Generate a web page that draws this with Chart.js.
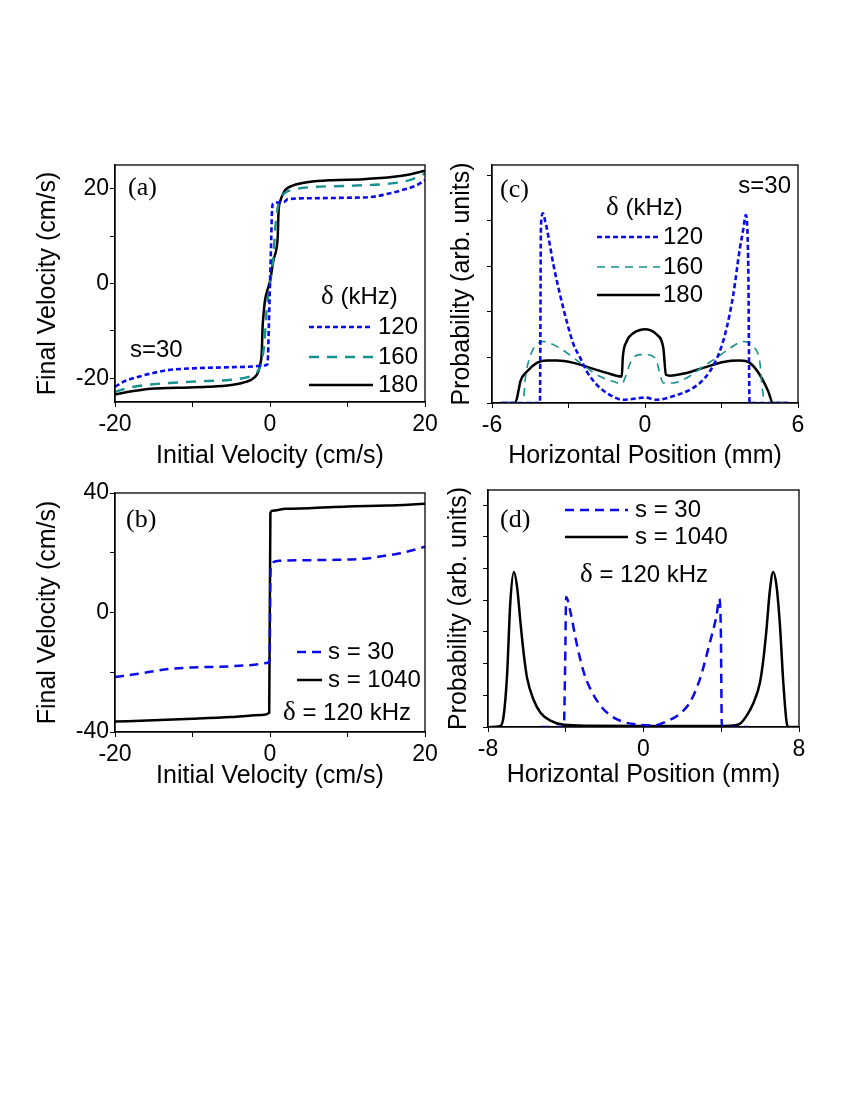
<!DOCTYPE html>
<html><head><meta charset="utf-8">
<script src="https://cdn.jsdelivr.net/npm/chart.js@4.4.1/dist/chart.umd.min.js"></script>
<style>
html,body{margin:0;padding:0;background:#fff;}
#wrap{position:relative;width:850px;height:1100px;overflow:hidden;}
canvas{position:absolute;left:0;top:0;}
</style></head><body><div id="wrap">
<canvas id="ca" width="850" height="1100"></canvas>
<canvas id="cb" width="850" height="1100"></canvas>
<canvas id="cc" width="850" height="1100"></canvas>
<canvas id="cd" width="850" height="1100"></canvas>
</div>
<script>
const SANS = '"Liberation Sans", Arial, Helvetica, sans-serif';
const SERIF = '"Liberation Serif", "Times New Roman", serif';

// ---------- Panel (a) ----------
const aXTicks = [-20,-10,0,10,20];
const aXLabels = [-20,0,20];
const aYTicks = [-20,-10,0,10,20];
const aYLabels = [-20,0,20];
const aSeries = ['120','160','180'];
const aX120 = [-20,-18.9,-16.8,-14.6,-13.3,-10,-6,-2.2,-0.8,-0.35,-0.25,-0.15,-0.05,0.05,0.15,0.25,0.4,0.8,1.8,2.3,6,10,13.3,14.6,16.8,18.9,20];
const aY120 = [-21.8,-20.7,-19.6,-18.7,-18.3,-17.9,-17.7,-17.5,-17.3,-17.1,-15,-9,-3,3,9,15,16.9,17.1,17.2,17.8,18.0,18.1,18.3,18.7,19.6,20.7,21.8];
const aX160 = [-20,-18.5,-16,-13,-10,-5,-3,-2,-1.5,-1,-0.7,-0.4,0,0.4,0.7,1,1.5,2,3,5,10,13,15,18,20];
const aY160 = [-22.9,-22.1,-21.4,-21.0,-20.7,-20.3,-19.8,-19.2,-18.3,-16,-12,-5,0,5,12,16,18.3,19.2,19.8,20.3,20.6,20.8,21.0,21.8,23.2];
const aX180 = [-20,-18,-16,-12,-8,-5,-3,-2,-1.5,-1.3,-1.07,-0.95,-0.86,-0.65,-0.3,0,0.45,0.85,1.0,1.1,1.35,1.6,2,3,5,8,12,16,18,20];
const aY180 = [-23.4,-22.8,-22.3,-22.0,-21.8,-21.4,-20.7,-19.8,-18.6,-17.2,-14.7,-9,-7,-3.6,-1.2,0.5,4.9,7.5,10,15,17.5,18.6,19.8,20.7,21.4,21.8,22.0,22.5,23.0,23.8];

// ---------- Panel (b) ----------
const bXTicks = [-20,-10,0,10,20];
const bXLabels = [-20,0,20];
const bYTicks = [-40,-20,0,20,40];
const bYLabels = [-40,0,40];
const bSeries = ['s = 30','s = 1040'];
const bX30 = [-20,-17,-13,-10,-5,-2,-0.4,-0.05,0.05,0.15,0.4,1.3,8,12.5,14.6,16.8,20];
const bY30 = [-21.6,-20.5,-18.9,-18.4,-18.0,-17.5,-16.9,-16.0,12,15.5,16.8,17.3,17.6,18.1,18.9,19.8,22.0];
const bX1040 = [-20,-15,-10,-5,-1,-0.1,0.05,0.3,2,5,10,15,20];
const bY1040 = [-36.5,-36.1,-35.6,-35.0,-34.3,-33.6,33.2,34.1,34.7,34.9,35.5,35.8,36.4];

// ---------- Panel (c) ----------
const cXTicks = [-6,-3,0,3,6];
const cXLabels = [-6,0,6];
const cYTicks = [0,1,2,3,4,5];
const cYLabels = [];
const cSeries = ['120','160','180'];
const cX120 = [-5.6,-4.12,-4.08,-4.0,-3.9,-3.85,-3.59,-3.33,-3.07,-2.8,-2.54,-2.28,-1.89,-1.5,-0.85,-0.2,0,0.46,1.1,1.76,2.15,2.54,2.93,3.2,3.46,3.72,3.85,3.95,4.05,4.1,5.6];
const cY120 = [0,0,3.9,4.16,3.95,3.83,3.03,2.37,1.79,1.28,0.99,0.69,0.40,0.22,0.07,0.11,0.12,0.07,0.15,0.29,0.44,0.69,1.13,1.64,2.37,3.39,3.8,4.12,3.0,0,0];
const cX160 = [-5.6,-4.78,-4.7,-4.6,-4.37,-3.98,-3.72,-3.33,-2.8,-2.28,-1.76,-1.24,-0.91,-0.78,-0.6,-0.46,-0.2,0,0.2,0.46,0.59,0.72,1.1,1.63,2.28,2.8,3.33,3.85,4.24,4.5,4.6,4.7,5.6];
const cY160 = [0,0,0.5,0.84,1.2,1.35,1.31,1.2,0.99,0.77,0.58,0.47,0.42,0.55,0.85,0.99,1.06,1.06,1.05,0.91,0.62,0.44,0.44,0.55,0.8,0.99,1.2,1.35,1.24,0.91,0.33,0,0];
const cX180 = [-5.67,-5.09,-4.95,-4.89,-4.63,-4.24,-3.85,-3.46,-2.8,-2.15,-1.5,-0.91,-0.87,-0.72,-0.46,-0.2,0,0.2,0.46,0.72,0.82,0.98,1.63,2.28,3.07,3.72,4.11,4.5,4.83,5.02,5.6];
const cY180 = [0,0,0.3,0.47,0.69,0.88,0.93,0.93,0.88,0.77,0.66,0.58,1.0,1.35,1.53,1.6,1.62,1.6,1.5,1.2,0.62,0.6,0.66,0.77,0.9,0.93,0.88,0.62,0.26,0,0];

// ---------- Panel (d) ----------
const dXTicks = [-8,-4,0,4,8];
const dXLabels = [-8,0,8];
const dYTicks = [0,1,2,3,4,5,6,7];
const dYLabels = [];
const dSeries = ['s = 30','s = 1040'];
const dX30 = [-5.3,-4.1,-4.03,-3.98,-3.76,-3.42,-3.08,-2.74,-2.22,-1.71,-1.03,-0.17,0.51,1.2,1.88,2.4,2.91,3.42,3.76,3.9,3.98,4.03,5.4];
const dY30 = [0,0,2.0,4.1,3.63,2.58,1.74,1.21,0.68,0.37,0.16,0.07,0.05,0.18,0.42,0.79,1.53,2.68,3.53,4.05,3.0,0,0];
const dX1040 = [-7.9,-7.36,-7.19,-7.02,-6.85,-6.67,-6.5,-6.33,-6.16,-5.99,-5.65,-5.3,-4.79,-4.1,-2.74,0,3.25,4.44,4.96,5.3,5.65,5.99,6.16,6.33,6.5,6.67,6.84,7.02,7.19,7.36,7.45,7.95];
const dY1040 = [0,0.03,0.37,1.63,3.95,4.89,4.4,3.3,2.3,1.55,0.85,0.45,0.2,0.07,0.04,0.03,0.03,0.04,0.1,0.35,0.75,1.4,2.1,3.1,4.3,4.89,4.47,3.21,1.42,0.16,0,0];

// ---------- helpers ----------
const pts = (xs, ys) => xs.map((x, i) => ({x: x, y: ys[i]}));
const BLUE = '#0a0aee', TEAL = '#17908f', BLACK = '#000';

function line(label, data, color, width, dash) {
  return {label, data, borderColor: color, backgroundColor: color, borderWidth: width,
    borderDash: dash, showLine: true, pointRadius: 0, fill: false,
    cubicInterpolationMode: 'monotone'};
}

function drawParts(ctx, parts, x, y, align) {
  let total = 0;
  parts.forEach(p => { ctx.font = p.size + 'px ' + p.fam; p.w = ctx.measureText(p.t).width; total += p.w; });
  let cx = align === 'right' ? x - total : x;
  ctx.textBaseline = 'middle'; ctx.textAlign = 'left'; ctx.fillStyle = '#000';
  parts.forEach(p => { ctx.font = p.size + 'px ' + p.fam; ctx.fillText(p.t, cx, y); cx += p.w; });
}
const S = (t) => ({t, fam: SANS, size: 24});
const D = (t) => ({t, fam: SERIF, size: 27});
const TAG = (t) => ({t, fam: SERIF, size: 26});

const decorPlugin = {
  id: 'decor',
  afterDraw(chart, args, opts) {
    const ctx = chart.ctx, a = chart.chartArea;
    ctx.save();
    ctx.strokeStyle = '#000'; ctx.lineWidth = 1.3; ctx.setLineDash([]);
    ctx.strokeRect(a.left, a.top, a.right - a.left, a.bottom - a.top);
    (opts.items || []).forEach(it => {
      const ds = chart.data.datasets[it.ds];
      ctx.beginPath(); ctx.strokeStyle = ds.borderColor; ctx.lineWidth = ds.borderWidth;
      ctx.setLineDash(ds.borderDash || []);
      ctx.moveTo(it.x1, it.y); ctx.lineTo(it.x2, it.y); ctx.stroke(); ctx.setLineDash([]);
      drawParts(ctx, [S(ds.label)], it.tx, it.y, 'left');
    });
    (opts.texts || []).forEach(t => drawParts(ctx, t.parts, t.x, t.y, t.align || 'left'));
    ctx.restore();
  }
};

function xScale(min, max, ticks, labels, title, H, pb) {
  return {type: 'linear', position: 'bottom', min, max,
    afterBuildTicks: s => { s.ticks = ticks.map(v => ({value: v})); },
    afterFit: s => { s.height = H; },
    ticks: {autoSkip: false, maxRotation: 0, padding: 4, color: '#000',
      font: {family: SANS, size: 23}, callback: v => labels.includes(v) ? String(v) : ''},
    grid: {display: true, drawOnChartArea: false, drawTicks: true, tickLength: 5, color: '#000', lineWidth: 1},
    border: {display: true, color: '#000', width: 1.3},
    title: {display: true, text: title, color: '#000', font: {family: SANS, size: 25}, padding: {top: 0, bottom: pb}}
  };
}
function yScale(min, max, ticks, labels, title, W, pt) {
  return {type: 'linear', position: 'left', min, max,
    afterBuildTicks: s => { s.ticks = ticks.map(v => ({value: v})); },
    afterFit: s => { s.width = W; },
    ticks: {autoSkip: false, padding: 1, color: '#000',
      font: {family: SANS, size: 23}, callback: v => labels.includes(v) ? String(v) : ''},
    grid: {display: true, drawOnChartArea: false, drawTicks: true, tickLength: 5, color: '#000', lineWidth: 1},
    border: {display: true, color: '#000', width: 1.3},
    title: {display: true, text: title, color: '#000', font: {family: SANS, size: 25}, padding: {top: pt, bottom: 0}}
  };
}

function panel(id, rect, W, H, datasets, xs, ys, decor) {
  new Chart(document.getElementById(id), {
    type: 'scatter',
    data: {datasets},
    options: {
      responsive: false, animation: false, events: [],
      layout: {padding: {left: rect.l - W, top: rect.t, right: 850 - rect.r, bottom: 1100 - rect.b - H}},
      scales: {x: xs, y: ys},
      plugins: {legend: {display: false}, tooltip: {enabled: false}, decor}
    },
    plugins: [decorPlugin]
  });
}

// (a)
panel('ca', {l: 115, t: 165, r: 425, b: 402}, 82, 70, [
  line(aSeries[0], pts(aX120, aY120), BLUE, 2.6, [5, 3]),
  line(aSeries[1], pts(aX160, aY160), TEAL, 2.4, [10, 8]),
  line(aSeries[2], pts(aX180, aY180), BLACK, 2.5, [])
], xScale(-20, 20, aXTicks, aXLabels, 'Initial Velocity (cm/s)', 70, 1),
   yScale(-25, 25, aYTicks, aYLabels, 'Final Velocity (cm/s)', 82, 0),
{
  items: [{ds: 0, x1: 309, x2: 373, y: 327, tx: 378}, {ds: 1, x1: 309, x2: 373, y: 357, tx: 378}, {ds: 2, x1: 309, x2: 373, y: 385, tx: 378}],
  texts: [{parts: [TAG('(a)')], x: 128, y: 188}, {parts: [D('δ'), S(' (kHz)')], x: 321, y: 297}, {parts: [S('s=30')], x: 130, y: 350}]
});

// (b)
panel('cb', {l: 115, t: 493, r: 425, b: 732}, 82, 60, [
  line(bSeries[0], pts(bX30, bY30), BLUE, 2.5, [9, 6]),
  line(bSeries[1], pts(bX1040, bY1040), BLACK, 2.5, [])
], xScale(-20, 20, bXTicks, bXLabels, 'Initial Velocity (cm/s)', 60, 1),
   yScale(-40, 40, bYTicks, bYLabels, 'Final Velocity (cm/s)', 82, 0),
{
  items: [{ds: 0, x1: 297, x2: 322, y: 652, tx: 328}, {ds: 1, x1: 297, x2: 322, y: 680, tx: 328}],
  texts: [{parts: [TAG('(b)')], x: 126, y: 520}, {parts: [D('δ'), S(' = 120 kHz')], x: 283, y: 713}]
});

// (c)
panel('cc', {l: 492, t: 165, r: 798, b: 403}, 45, 69, [
  line(cSeries[0], pts(cX120, cY120), BLUE, 2.6, [5, 3]),
  line(cSeries[1], pts(cX160, cY160), TEAL, 1.6, [8, 6]),
  line(cSeries[2], pts(cX180, cY180), BLACK, 2.5, [])
], xScale(-6, 6, cXTicks, cXLabels, 'Horizontal Position (mm)', 69, 1),
   yScale(0, 5.22, cYTicks, cYLabels, 'Probability (arb. units)', 45, 0),
{
  items: [{ds: 0, x1: 597, x2: 660, y: 237, tx: 663}, {ds: 1, x1: 597, x2: 660, y: 267, tx: 663}, {ds: 2, x1: 597, x2: 660, y: 295, tx: 663}],
  texts: [{parts: [TAG('(c)')], x: 500, y: 190}, {parts: [S('s=30')], x: 791, y: 186, align: 'right'}, {parts: [D('δ'), S(' (kHz)')], x: 606, y: 208}]
});

// (d)
panel('cd', {l: 488, t: 490, r: 799, b: 727}, 44, 64, [
  line(dSeries[0], pts(dX30, dY30), BLUE, 2.5, [9, 6]),
  line(dSeries[1], pts(dX1040, dY1040), BLACK, 2.5, [])
], xScale(-8, 8, dXTicks, dXLabels, 'Horizontal Position (mm)', 64, 1),
   yScale(0, 7.48, dYTicks, dYLabels, 'Probability (arb. units)', 44, 0),
{
  items: [{ds: 0, x1: 565, x2: 628, y: 510, tx: 635}, {ds: 1, x1: 565, x2: 628, y: 537, tx: 635}],
  texts: [{parts: [TAG('(d)')], x: 500, y: 520}, {parts: [D('δ'), S(' = 120 kHz')], x: 580, y: 575}]
});
</script>
</body></html>
